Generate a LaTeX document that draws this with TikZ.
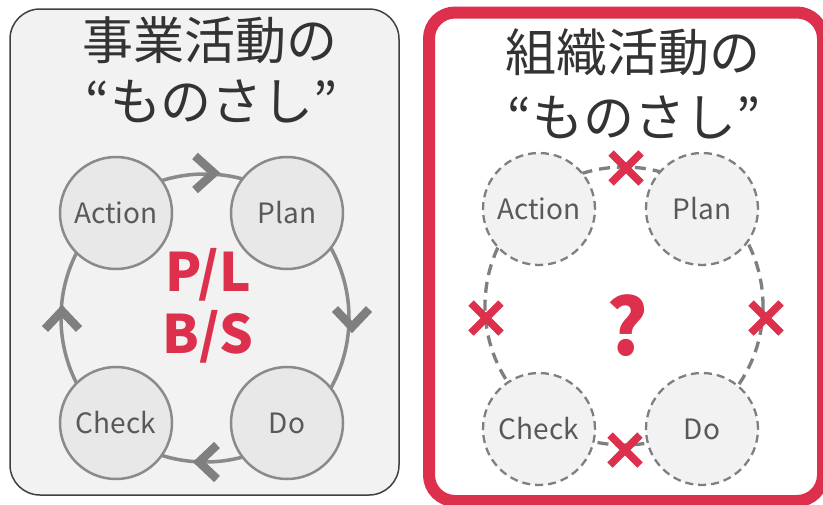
\documentclass[tikz,border=0pt]{standalone}
\usepackage{fontspec}
\setmainfont{Noto Sans CJK JP}
\definecolor{myred}{HTML}{DC304C}
\definecolor{framegray}{HTML}{404040}
\definecolor{panelfill}{HTML}{F2F2F2}
\definecolor{circfill}{HTML}{E8E8E8}
\definecolor{ringgray}{HTML}{8A8A8A}
\definecolor{chevgray}{HTML}{7F7F7F}
\definecolor{titlecol}{HTML}{333333}
\definecolor{labelcol}{HTML}{595959}
\tikzset{
  titletext/.style={anchor=base, inner sep=0pt, text=titlecol, font=\fontsize{51}{51}\selectfont},
  solidcirc/.style={circle, draw=ringgray, line width=2.5pt, fill=circfill, minimum size=112pt, inner sep=0pt,
    text=labelcol, font=\fontsize{28}{28}\selectfont, text height=20.5pt, text depth=0pt},
  dashcirc/.style={circle, draw=chevgray, line width=2.3pt, dash pattern=on 8pt off 5pt, fill=panelfill, minimum size=112pt, inner sep=0pt,
    text=labelcol, font=\fontsize{28}{28}\selectfont, text height=20.5pt, text depth=0pt},
  chevron/.style={draw=chevgray, line width=8.5pt, miter limit=10},
  crossmark/.style={draw=myred, line width=7.5pt},
  redbig/.style={text=myred, inner sep=0pt, font=\bfseries\fontsize{53}{53}\selectfont, text height=39pt, text depth=0pt},
}
\begin{document}
\begin{tikzpicture}[x=1pt,y=-1pt]
\useasboundingbox (0,0) rectangle (823,504);
\clip (0,0) rectangle (823,504);
% left panel
\draw[draw=framegray, fill=panelfill, line width=1.5pt, rounded corners=30pt] (10,9) rectangle (399,495);
\node[titletext] (lt1) at (210,59) {事業活動の};
\node[titletext] (lt2) at (212,120) {“ものさし”};
\draw[draw=ringgray, line width=3.5pt] (205,318) circle[radius=144];
\node[solidcirc] (la) at (116,213) {Action};
\node[solidcirc] (lp) at (287,213) {Plan};
\node[solidcirc] (lc) at (116,423) {Check};
\node[solidcirc] (ld) at (287,423) {Do};
\draw[chevron] (195,156) -- (214,173) -- (195,190);
\draw[chevron] (335,309) -- (352,327) -- (369,309);
\draw[chevron] (217,445) -- (199,462) -- (217,479);
\draw[chevron] (45,329) -- (62,311) -- (79,329);
\node[redbig] (pl) at (208,272) {P/L};
\node[redbig] (bs) at (208,334) {B/S};
% right panel
\draw[draw=myred, fill=white, line width=12pt, rounded corners=26pt] (429,12.5) rectangle (823,501);
\node[titletext] (rt1) at (633,71) {組織活動の};
\node[titletext] (rt2) at (634,136) {“ものさし”};
\draw[draw=chevgray, line width=3.3pt, dash pattern=on 11pt off 7pt] (624,306) circle[radius=139];
\node[dashcirc] (ra) at (539,209) {Action};
\node[dashcirc] (rp) at (702,209) {Plan};
\node[dashcirc] (rc) at (539,429) {Check};
\node[dashcirc] (rd) at (702,429) {Do};
\foreach \cx/\cy in {626/168, 486/318, 766/318, 625/450} {
  \draw[crossmark] (\cx-15,\cy-15) -- (\cx+15,\cy+15);
  \draw[crossmark] (\cx-15,\cy+15) -- (\cx+15,\cy-15);
}
\node[text=myred, inner sep=0pt, font=\bfseries\fontsize{78}{78}\selectfont, text height=57pt, text depth=0pt] (q) at (627,327) {?};
\end{tikzpicture}
\end{document}
